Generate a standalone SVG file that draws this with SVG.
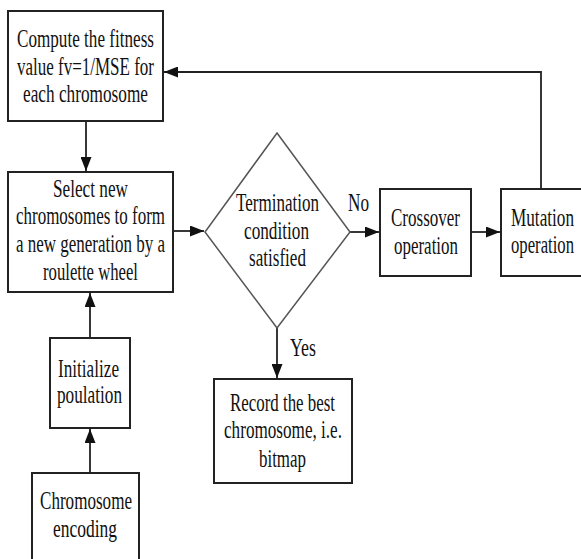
<svg xmlns="http://www.w3.org/2000/svg" width="581" height="559" viewBox="0 0 581 559">
<defs>
<style>
.box{fill:#fff;stroke:#222;stroke-width:2}
.dia{fill:#fff;stroke:#555;stroke-width:1.5}
.lbl{font-family:"Liberation Serif","Times New Roman",serif;font-size:25px;fill:#111;text-anchor:middle}
.con{fill:none;stroke:#222;stroke-width:1.8}
</style>
<marker id="ah" markerUnits="userSpaceOnUse" markerWidth="15" markerHeight="11" refX="14" refY="5.5" orient="auto">
<path d="M0,0 L14,5.5 L0,11 z" fill="#111"/>
</marker>
</defs>
<rect width="581" height="559" fill="#fff"/>
<g id="connectors">
<path class="con" d="M86,121 V171" marker-end="url(#ah)"/>
<path class="con" d="M173,231 H204" marker-end="url(#ah)"/>
<path class="con" d="M350,232 H379" marker-end="url(#ah)"/>
<path class="con" d="M471,232 H500" marker-end="url(#ah)"/>
<path class="con" d="M541,189 V72 H164" marker-end="url(#ah)"/>
<path class="con" d="M277,328 V378" marker-end="url(#ah)"/>
<path class="con" d="M90,338 V293" marker-end="url(#ah)"/>
<path class="con" d="M90,473 V429" marker-end="url(#ah)"/>
<text class="lbl" x="358.5" y="211" textLength="21" lengthAdjust="spacingAndGlyphs">No</text>
<text class="lbl" x="303" y="356" textLength="26" lengthAdjust="spacingAndGlyphs">Yes</text>
</g>
<g id="compute">
<rect class="box" x="8" y="11" width="155" height="110"/>
<text class="lbl" x="85.5" y="47" textLength="137" lengthAdjust="spacingAndGlyphs">Compute the fitness</text>
<text class="lbl" x="85.5" y="75" textLength="137" lengthAdjust="spacingAndGlyphs">value fv=1/MSE for</text>
<text class="lbl" x="85.5" y="102" textLength="125" lengthAdjust="spacingAndGlyphs">each chromosome</text>
</g>
<g id="select">
<rect class="box" x="8" y="172" width="165" height="120"/>
<text class="lbl" x="90.5" y="197" textLength="75" lengthAdjust="spacingAndGlyphs">Select new</text>
<text class="lbl" x="90.5" y="224" textLength="149" lengthAdjust="spacingAndGlyphs">chromosomes to form</text>
<text class="lbl" x="90.5" y="252" textLength="149" lengthAdjust="spacingAndGlyphs">a new generation by a</text>
<text class="lbl" x="90.5" y="280" textLength="95" lengthAdjust="spacingAndGlyphs">roulette wheel</text>
</g>
<g id="termination">
<polygon class="dia" points="277,133 350,232 277,328 205,232"/>
<text class="lbl" x="277.5" y="211" textLength="83" lengthAdjust="spacingAndGlyphs">Termination</text>
<text class="lbl" x="276.5" y="239" textLength="65" lengthAdjust="spacingAndGlyphs">condition</text>
<text class="lbl" x="277.5" y="266" textLength="57" lengthAdjust="spacingAndGlyphs">satisfied</text>
</g>
<g id="crossover">
<rect class="box" x="380" y="189" width="91" height="87"/>
<text class="lbl" x="425.5" y="226" textLength="69" lengthAdjust="spacingAndGlyphs">Crossover</text>
<text class="lbl" x="426" y="254" textLength="64" lengthAdjust="spacingAndGlyphs">operation</text>
</g>
<g id="mutation">
<rect class="box" x="501" y="189" width="90" height="87"/>
<text class="lbl" x="542.5" y="226" textLength="63" lengthAdjust="spacingAndGlyphs">Mutation</text>
<text class="lbl" x="542.5" y="253" textLength="63" lengthAdjust="spacingAndGlyphs">operation</text>
</g>
<g id="record">
<rect class="box" x="214" y="379" width="138" height="104"/>
<text class="lbl" x="282.5" y="411" textLength="105" lengthAdjust="spacingAndGlyphs">Record the best</text>
<text class="lbl" x="283" y="438" textLength="118" lengthAdjust="spacingAndGlyphs">chromosome, i.e.</text>
<text class="lbl" x="282.5" y="467" textLength="47" lengthAdjust="spacingAndGlyphs">bitmap</text>
</g>
<g id="initialize">
<rect class="box" x="50" y="338" width="80" height="90"/>
<text class="lbl" x="88.5" y="377" textLength="61" lengthAdjust="spacingAndGlyphs">Initialize</text>
<text class="lbl" x="89.5" y="403" textLength="65" lengthAdjust="spacingAndGlyphs">poulation</text>
</g>
<g id="encoding">
<rect class="box" x="32" y="473" width="107" height="100"/>
<text class="lbl" x="86" y="509" textLength="92" lengthAdjust="spacingAndGlyphs">Chromosome</text>
<text class="lbl" x="85" y="537" textLength="64" lengthAdjust="spacingAndGlyphs">encoding</text>
</g>
</svg>
